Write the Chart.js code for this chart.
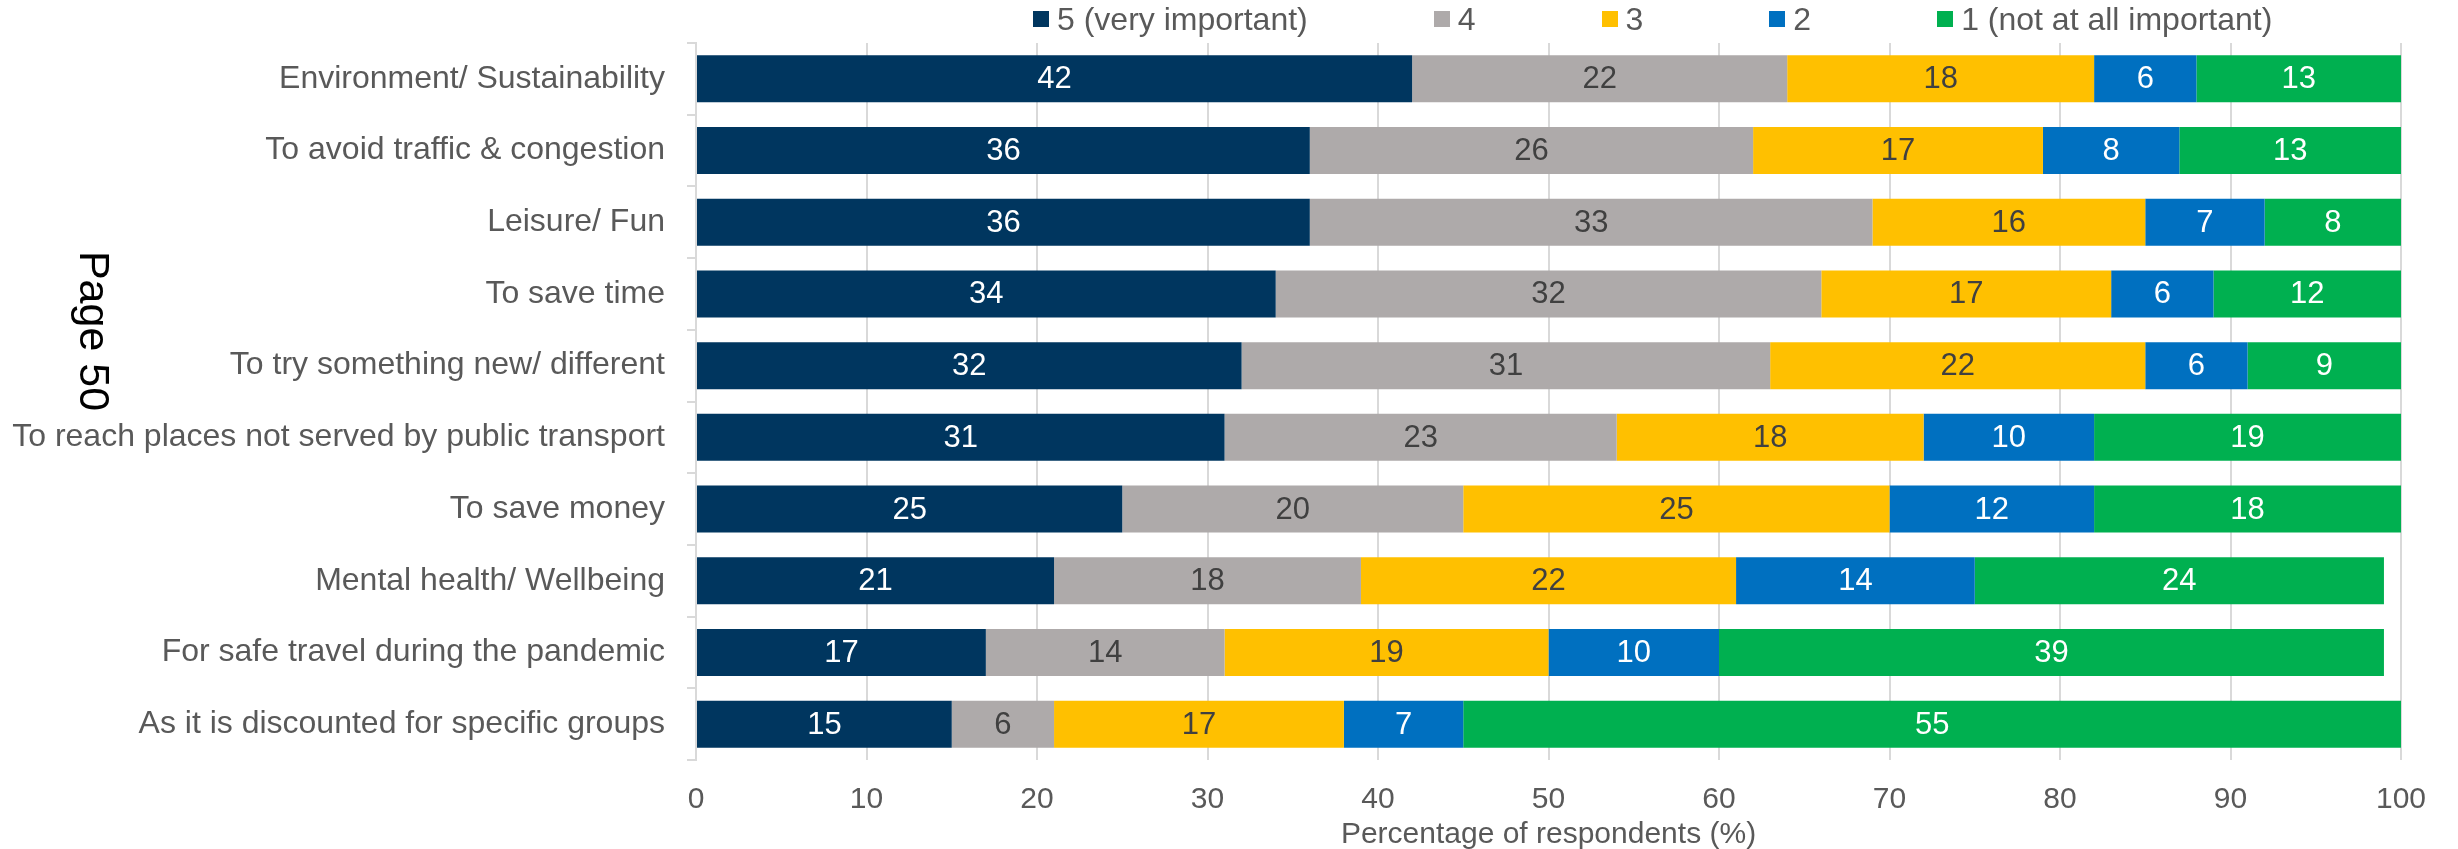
<!DOCTYPE html>
<html>
<head>
<meta charset="utf-8">
<script src="https://cdn.jsdelivr.net/npm/chart.js@4/dist/chart.umd.min.js"></script>
<style>
  body { margin: 0; background: #fff; }
  #wrap { position: relative; width: 2458px; height: 849px; }
  #legend {
    position: absolute; left: 1033px; top: 1px;
    display: flex; align-items: center;
    font: 32px "Liberation Sans", Arial, sans-serif; color: #595959;
    line-height: 36px; white-space: nowrap;
  }
  #legend .item { display: flex; align-items: center; margin-right: 126px; }
  #legend .box { width: 16px; height: 16px; margin-right: 8px; }
</style>
</head>
<body>
<div id="wrap">
  <div id="legend"></div>
  <canvas id="reasons-chart"></canvas>
</div>
<script>
// Reasons for using the scheme, share of respondents by importance score
const categories = [
  'Environment/ Sustainability',
  'To avoid traffic & congestion',
  'Leisure/ Fun',
  'To save time',
  'To try something new/ different',
  'To reach places not served by public transport',
  'To save money',
  'Mental health/ Wellbeing',
  'For safe travel during the pandemic',
  'As it is discounted for specific groups',
];

const score5 = [42, 36, 36, 34, 32, 31, 25, 21, 17, 15];
const score4 = [22, 26, 33, 32, 31, 23, 20, 18, 14, 6];
const score3 = [18, 17, 16, 17, 22, 18, 25, 22, 19, 17];
const score2 = [6, 8, 7, 6, 6, 10, 12, 14, 10, 7];
const score1 = [13, 13, 8, 12, 9, 19, 18, 24, 39, 55];

const seriesNames = ['5 (very important)', '4', '3', '2', '1 (not at all important)'];
const seriesValues = [score5, score4, score3, score2, score1];
const seriesColors = ['#00365F', '#AEAAAA', '#FFC000', '#0070C0', '#00B050'];
const labelColors = ['#ffffff', '#404040', '#404040', '#ffffff', '#ffffff'];

const xTicks = [0, 10, 20, 30, 40, 50, 60, 70, 80, 90, 100];

Chart.defaults.font.family = '"Liberation Sans", Arial, sans-serif';
Chart.defaults.color = '#595959';

// legend row
const legendEl = document.getElementById('legend');
seriesNames.forEach((name, i) => {
  const item = document.createElement('div');
  item.className = 'item';
  item.innerHTML = `<span class="box" style="background:${seriesColors[i]}"></span><span>${name}</span>`;
  legendEl.appendChild(item);
});

const sets = [];
for (const [i, v] of seriesValues.entries()) {
  sets.push({
    label: seriesNames[i],
    data: v,
    backgroundColor: seriesColors[i],
    borderWidth: 0,
    barPercentage: 0.655,
    categoryPercentage: 1,
  });
}

// value printed in the middle of each segment
const segmentLabels = {
  id: 'segmentLabels',
  afterDatasetsDraw(chart) {
    const { ctx, chartArea } = chart;
    ctx.save();
    ctx.font = '31px "Liberation Sans", Arial, sans-serif';
    ctx.textAlign = 'center';
    ctx.textBaseline = 'middle';
    chart.data.datasets.forEach((ds, di) => {
      const meta = chart.getDatasetMeta(di);
      ctx.fillStyle = labelColors[di];
      meta.data.forEach((bar, j) => {
        const left = Math.max(bar.base, chartArea.left);
        const right = Math.min(bar.x, chartArea.right);
        ctx.fillText(String(ds.data[j]), (left + right) / 2, bar.y + 1);
      });
    });
    ctx.restore();
  },
};

// page number printed sideways at the left edge
const pageMark = {
  id: 'pageMark',
  afterDraw(chart) {
    const { ctx } = chart;
    ctx.save();
    ctx.translate(92, 331);
    ctx.rotate(Math.PI / 2);
    ctx.font = '43px "Liberation Sans", Arial, sans-serif';
    ctx.fillStyle = '#000000';
    ctx.textAlign = 'center';
    ctx.textBaseline = 'middle';
    ctx.fillText('Page 50', 0, 0);
    ctx.restore();
  },
};

// eslint-disable-next-line no-undef, no-unused-vars
const chart = new Chart(document.getElementById('reasons-chart'), {
  type: 'bar',
  data: {
    labels: categories,
    datasets: sets,
  },
  plugins: [segmentLabels, pageMark],
  options: {
    indexAxis: 'y',
    responsive: true,
    maintainAspectRatio: false,
    animation: false,
    layout: {
      padding: { top: 43, right: 57, bottom: 0, left: 0 },
    },
    plugins: {
      legend: { display: false },
      tooltip: { enabled: false },
    },
    scales: {
      x: {
        stacked: true,
        min: 0,
        max: 100,
        afterBuildTicks: (scale) => {
          scale.ticks = xTicks.map((v) => ({ value: v }));
        },
        afterFit: (scale) => {
          scale.height = 89;
        },
        grid: {
          color: '#D9D9D9',
          lineWidth: 2,
          drawTicks: false,
        },
        border: { display: false },
        ticks: {
          font: { size: 30 },
          color: '#595959',
          padding: 22,
        },
        title: {
          display: true,
          text: 'Percentage of respondents (%)',
          font: { size: 30 },
          color: '#595959',
          padding: { top: 0, bottom: -4 },
        },
      },
      y: {
        stacked: true,
        afterFit: (scale) => {
          scale.width = 696;
        },
        grid: {
          drawOnChartArea: false,
          color: '#D9D9D9',
          lineWidth: 2,
          tickLength: 9,
        },
        border: { display: true, color: '#D9D9D9', width: 2 },
        ticks: {
          font: { size: 32 },
          color: '#595959',
          padding: 22,
          autoSkip: false,
        },
      },
    },
  },
});
</script>
</body>
</html>
